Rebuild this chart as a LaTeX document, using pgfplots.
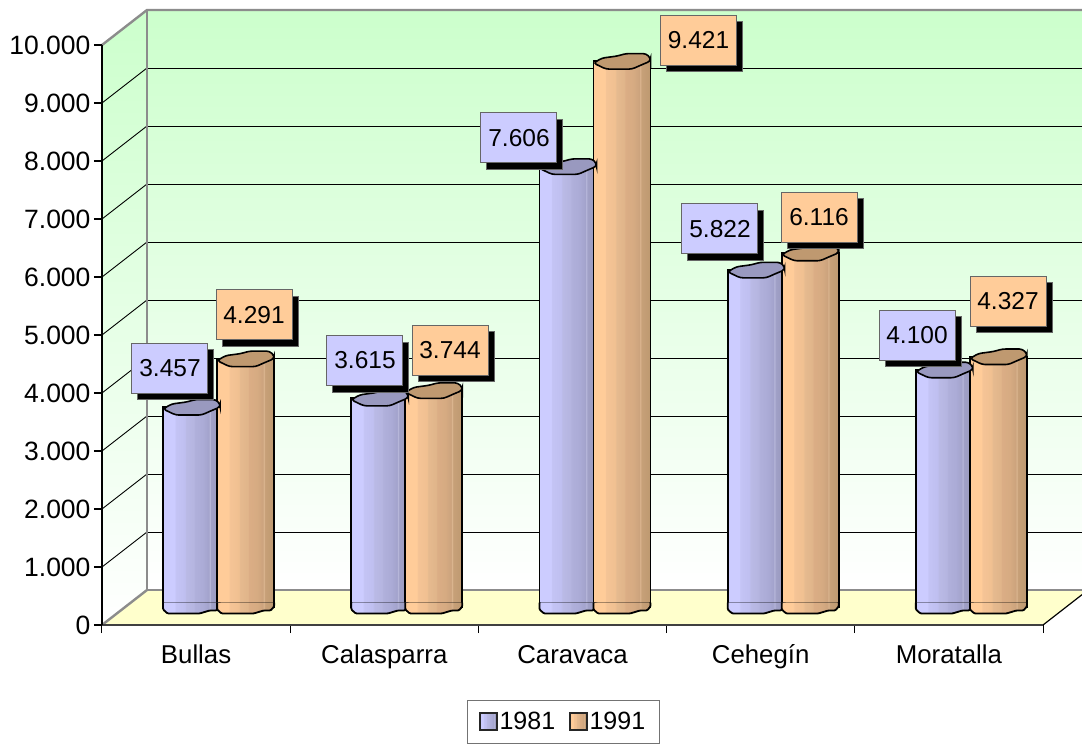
\documentclass[border=0pt]{standalone}
\usepackage{fontspec}
\setmainfont{Liberation Sans}
\usepackage{pgfplots}
\usepackage{pgfplotstable}
\pgfplotsset{compat=1.18}
\usetikzlibrary{shadows}
\definecolor{wallgreen}{HTML}{CCFFCC}
\definecolor{floory}{HTML}{FFFFCC}
\definecolor{wallgray}{HTML}{8C8C8C}
\definecolor{blue0}{HTML}{CCCCFF}
\definecolor{orange0}{HTML}{FFCC99}
\definecolor{capb}{HTML}{9999BF}
\definecolor{capo}{HTML}{BF9970}
\definecolor{oa}{HTML}{F5C496}\definecolor{ob}{HTML}{F0C091}\definecolor{oc}{HTML}{E6BA8F}
\definecolor{od}{HTML}{E0B58A}\definecolor{oe}{HTML}{DBAD85}\definecolor{of}{HTML}{D6AB82}
\definecolor{og}{HTML}{CCA37D}\definecolor{oh}{HTML}{DBB58F}\definecolor{oi}{HTML}{C7A078}\definecolor{oj}{HTML}{BD9970}
\definecolor{ba}{HTML}{C4C4F5}\definecolor{bb}{HTML}{BFBFF0}\definecolor{bc}{HTML}{BABAE6}
\definecolor{bd}{HTML}{B5B5E0}\definecolor{be}{HTML}{B0B0DB}\definecolor{bf}{HTML}{ABABD6}
\definecolor{bg}{HTML}{A3A3CC}\definecolor{bh}{HTML}{B8B8DB}\definecolor{bi}{HTML}{A0A0C7}\definecolor{bj}{HTML}{9999BD}
\pgfdeclarehorizontalshading{orangebar}{100bp}{
 color(0bp)=(orange0); color(35bp)=(orange0); color(36bp)=(oa);
 color(44bp)=(ob); color(45bp)=(oc); color(52bp)=(od); color(53bp)=(oe);
 color(60bp)=(of); color(65bp)=(og); color(66bp)=(oh); color(67bp)=(oi);
 color(75bp)=(oj); color(100bp)=(oj)}
\pgfdeclarehorizontalshading{bluebar}{100bp}{
 color(0bp)=(blue0); color(35bp)=(blue0); color(36bp)=(ba);
 color(44bp)=(bb); color(45bp)=(bc); color(52bp)=(bd); color(53bp)=(be);
 color(60bp)=(bf); color(65bp)=(bg); color(66bp)=(bh); color(67bp)=(bi);
 color(75bp)=(bj); color(100bp)=(bj)}
\newcommand{\capshape}{[rounded corners=3pt] (-28.5pt,-2pt) -- (-20pt,3pt) -- (-5pt,5pt) -- (4pt,7.5pt) -- (24pt,7.5pt) -- (28.5pt,3pt) -- (28.5pt,0pt) -- (19pt,-4pt) -- (10pt,-8pt) -- (-16pt,-8pt) -- cycle}
\pgfdeclareplotmark{capblue}{\draw[line width=1.6pt,draw=black,fill=capb] \capshape;}
\pgfdeclareplotmark{caporange}{\draw[line width=1.6pt,draw=black,fill=capo] \capshape;}
\newcommand{\botshape}{[rounded corners=1pt] (-28.5pt,5pt) -- (-28.5pt,-2pt) -- (-24pt,-6pt) -- (8pt,-6pt) -- (18pt,-3pt) -- (25pt,-3pt) -- (28.5pt,1pt) -- (28.5pt,5pt)}
\pgfdeclareplotmark{botblue}{\path[shading=bluebar] \botshape -- cycle; \draw[line width=1.8pt,black] \botshape;}
\pgfdeclareplotmark{botorange}{\path[shading=orangebar] \botshape -- cycle; \draw[line width=1.8pt,black] \botshape;}
\pgfplotstableread{
x v
0.3565 3457
1.3565 3615
2.3565 7606
3.3565 5822
4.3565 4100
}\seriesA
\pgfplotstableread{
x v
0.6435 4291
1.6435 3744
2.6435 9421
3.6435 6116
4.6435 4327
}\seriesB
\pgfplotstableread{
x y t
0.3613 4431 3.457
1.3974 4560 3.615
2.2157 8397 7.606
3.2837 6828 5.822
4.3305 5000 4.100
}\labelsA
\pgfplotstableread{
x y t
0.8077 5345 4.291
1.8491 4741 3.744
3.1695 10086 9.421
3.8098 7034 6.116
4.8140 5586 4.327
}\labelsB
\pgfplotsset{geom/.style={scale only axis,width=941pt,height=580pt,xmin=0,xmax=5,ymin=0,ymax=10000,anchor=south west},
  barA/.style={ybar,bar width=57pt,bar shift=0pt,draw=black,line width=1.8pt,shading=bluebar},
  barB/.style={ybar,bar width=57pt,bar shift=0pt,draw=black,line width=1.8pt,shading=orangebar}}
\begin{document}
\begin{tikzpicture}
\path[use as bounding box,clip] (0pt,0pt) rectangle (1082pt,-744pt);
\fill[white] (0pt,0pt) rectangle (1082pt,-744pt);
% walls and floor
\fill[top color=wallgreen,bottom color=white] (147pt,-10pt) rectangle (1088pt,-590pt);
\fill[top color=wallgreen,bottom color=white] (102pt,-45pt) -- (147pt,-10pt) -- (147pt,-590pt) -- (102pt,-625pt) -- cycle;
\fill[floory] (102pt,-625pt) -- (147pt,-590pt) -- (1088pt,-590pt) -- (1043pt,-625pt) -- cycle;
% back wall grid
\begin{axis}[geom,at={(147pt,-590pt)},axis line style={draw=none},ymajorgrids,
  xtick=\empty,ytick={1000,2000,...,9000},yticklabel=\empty,major tick length=0pt,
  y tick style={draw=none},
  grid style={black,line width=0.9pt},clip=false]
\end{axis}
\foreach \yy in {103,161,219,277,335,393,451,509,567}{
  \draw[black,line width=0.9pt] (102pt,-\yy pt) -- (147pt,-\yy pt+35pt);
}
\draw[wallgray,line width=2.4pt] (102pt,-45pt) -- (147pt,-10pt) -- (1090pt,-10pt);
\draw[wallgray,line width=2.4pt] (147pt,-10pt) -- (147pt,-590pt) -- (1090pt,-590pt);
\draw[wallgray,line width=2.4pt] (102pt,-625pt) -- (147pt,-590pt);
\draw[black,line width=1.2pt] (1043pt,-625pt) -- (1088pt,-590pt);
% front axes
\begin{axis}[geom,at={(102pt,-625pt)},
  axis x line*=bottom,axis y line*=left,
  axis line style={-,line width=1.6pt},
  x axis line style={draw=black!75},
  tick align=outside,
  xtick={0.5,1.5,2.5,3.5,4.5},
  xticklabels={Bullas,Calasparra,Caravaca,Cehegín,Moratalla},
  minor xtick={0,1,2,3,4,5},
  major x tick style={draw=none},
  minor x tick style={draw=black,line width=1pt},
  minor tick length=8pt,
  major tick length=8pt,
  ytick={0,1000,...,10000},
  y tick style={draw=black,line width=1.2pt},
  scaled y ticks=false,
  tick label style={text=black},
  xticklabel style={font=\fontsize{25.8}{30}\selectfont,text height=19pt,text depth=6pt,anchor=north,yshift=-8pt},
  yticklabel style={font=\fontsize{26.5}{30}\selectfont,/pgf/number format/.cd,fixed,1000 sep={.},assume math mode=true},
]
\end{axis}
% bars, placed in the middle of the depth of the floor
\begin{axis}[geom,at={(124.5pt,-607.5pt)},hide axis,clip=false,
  legend columns=2,
  legend style={at={(0.4662,-0.1974)},anchor=center,draw=black!55,line width=1.2pt,fill=white,
    font=\fontsize{25}{30}\selectfont,inner xsep=12pt,inner ysep=10pt,
    /tikz/every even column/.style={column sep=12pt}},
]
\addplot[barA,legend image code/.code={\draw[draw=black!85,line width=1.4pt,fill=blue0] (0pt,-8pt) rectangle (17pt,9pt);}]
  coordinates {(0.3565,3457)};
\addplot[barA,forget plot] coordinates {(1.3565,3615)};
\addplot[barA,forget plot] coordinates {(2.3565,7606)};
\addplot[barA,forget plot] coordinates {(3.3565,5822)};
\addplot[barA,forget plot] coordinates {(4.3565,4100)};
\addplot[only marks,mark=botblue,forget plot] coordinates {(0.3565,0)(1.3565,0)(2.3565,0)(3.3565,0)(4.3565,0)};
\addplot[only marks,mark=capblue,forget plot] table[x=x,y=v] {\seriesA};
\addplot[barB,legend image code/.code={\draw[draw=black!85,line width=1.4pt,fill=orange0] (0pt,-8pt) rectangle (17pt,9pt);}]
  coordinates {(0.6435,4291)};
\addplot[barB,forget plot] coordinates {(1.6435,3744)};
\addplot[barB,forget plot] coordinates {(2.6435,9421)};
\addplot[barB,forget plot] coordinates {(3.6435,6116)};
\addplot[barB,forget plot] coordinates {(4.6435,4327)};
\addplot[only marks,mark=botorange,forget plot] coordinates {(0.6435,0)(1.6435,0)(2.6435,0)(3.6435,0)(4.6435,0)};
\addplot[only marks,mark=caporange,forget plot] table[x=x,y=v] {\seriesB};
\legend{1981,1991}
\end{axis}
% value labels
\begin{axis}[geom,at={(102pt,-625pt)},hide axis,clip=false,
  lab/.style={only marks,mark=none,forget plot,point meta=explicit symbolic,nodes near coords,
    every node near coord/.style={anchor=center,font=\fontsize{24.5}{30}\selectfont,text=black,draw=black!60,line width=1pt,
      fill=#1,minimum width=76pt,minimum height=50pt,inner sep=0pt,
      drop shadow={shadow xshift=6pt,shadow yshift=-6.5pt,fill=black,opacity=1}}}]
\addplot[lab=blue0] table[x=x,y=y,meta=t] {\labelsA};
\addplot[lab=orange0] table[x=x,y=y,meta=t] {\labelsB};
\end{axis}
\end{tikzpicture}
\end{document}
